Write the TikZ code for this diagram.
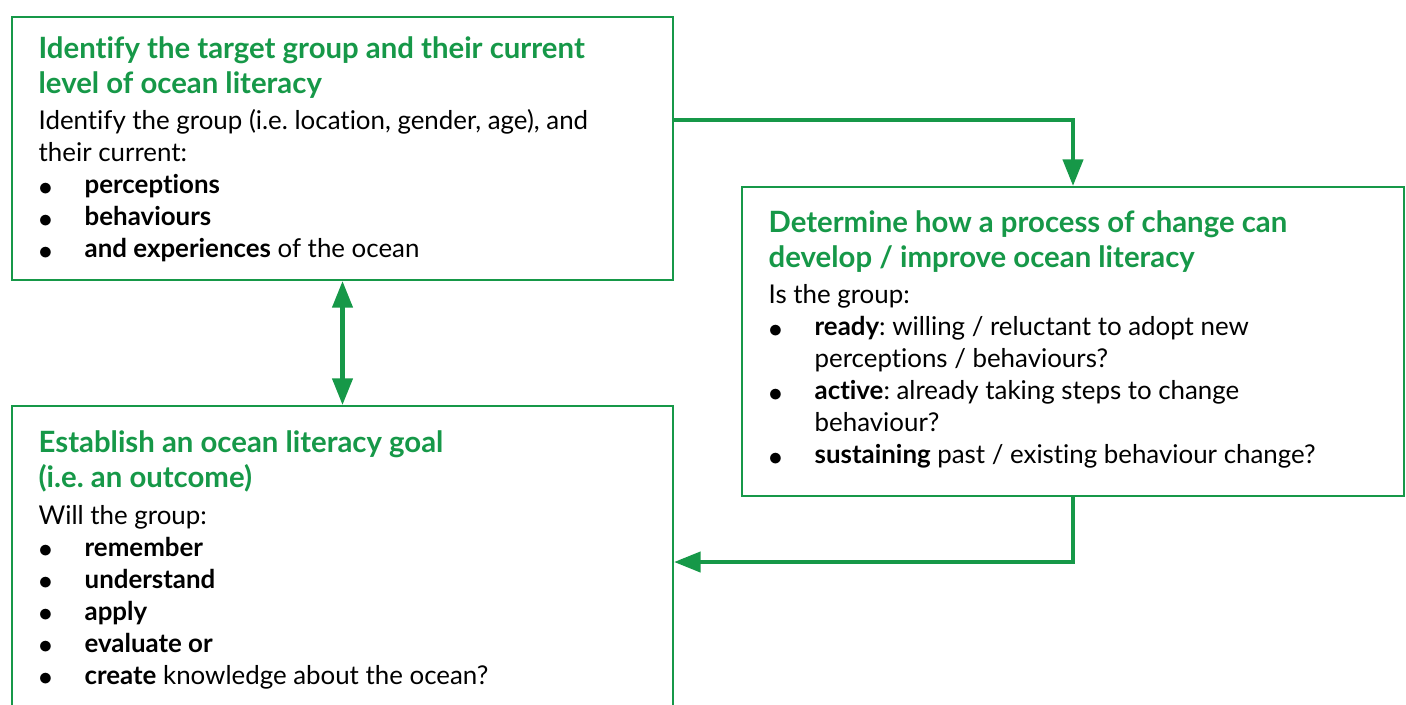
\documentclass[tikz,border=0pt]{standalone}
\usepackage{fontspec}
\setmainfont{Lato}[Ligatures=NoCommon]
\usetikzlibrary{arrows.meta,calc}
\definecolor{olgreen}{RGB}{22,152,72}
\frenchspacing
\newcommand{\hd}[1]{{\color{olgreen}\fontsize{22}{26.25}\selectfont\bfseries #1\par}\vspace{3.5pt}}
\newcommand{\itm}{\par\hangindent=34.5pt\hangafter=1\noindent\makebox[34.5pt][l]{\raisebox{-1pt}{\fontsize{22}{22}\selectfont$\bullet$}}}
\newcommand{\olbox}[3]{\begin{minipage}[t][#2][t]{#1}\fontsize{19.4}{24}\selectfont #3\end{minipage}}

\begin{document}
\begin{tikzpicture}[x=0.75pt,y=-0.75pt,
  box/.style={draw=olgreen,line width=1.5pt,anchor=north west,inner xsep=20pt,inner ysep=14.5pt},
  flow/.style={draw=olgreen,line width=3.2pt,-{Triangle[length=20pt,width=15pt]}}]
\useasboundingbox (0,0) rectangle (1406,704);
\clip (0,0) rectangle (1406,704);
\node[box] (A) at (11,16) {\olbox{455.75pt}{168.25pt}{%
\hd{Identify the target group and their current\\level of ocean literacy}
Identify the group (i.e. location, gender, age), and\\their current:
\itm\textbf{perceptions}
\itm\textbf{behaviours}
\itm\textbf{and experiences} of the ocean}};
\node[box] (B) at (741,186) {\olbox{456.5pt}{202.75pt}{\vspace*{3pt}%
\hd{Determine how a process of change can\\develop / improve ocean literacy}
Is the group:
\itm\textbf{ready}: willing / reluctant to adopt new\\perceptions / behaviours?
\itm\textbf{active}: already taking steps to change\\behaviour?
\itm\textbf{sustaining} past / existing behaviour change?}};
\node[box] (C) at (11,405) {\olbox{455.75pt}{205pt}{\vspace*{4pt}%
\hd{Establish an ocean literacy goal\\(i.e. an outcome)}
Will the group:
\itm\textbf{remember}
\itm\textbf{understand}
\itm\textbf{apply}
\itm\textbf{evaluate or}
\itm\textbf{create} knowledge about the ocean?}};
\draw[flow] ([yshift=21.4pt]A.east) -| (B.north);
\draw[flow] (B.south) |- (C.east);
\draw[flow,{Triangle[length=20pt,width=15pt]}-{Triangle[length=20pt,width=15pt]}] (A.south) -- (C.north);
\end{tikzpicture}
\end{document}
